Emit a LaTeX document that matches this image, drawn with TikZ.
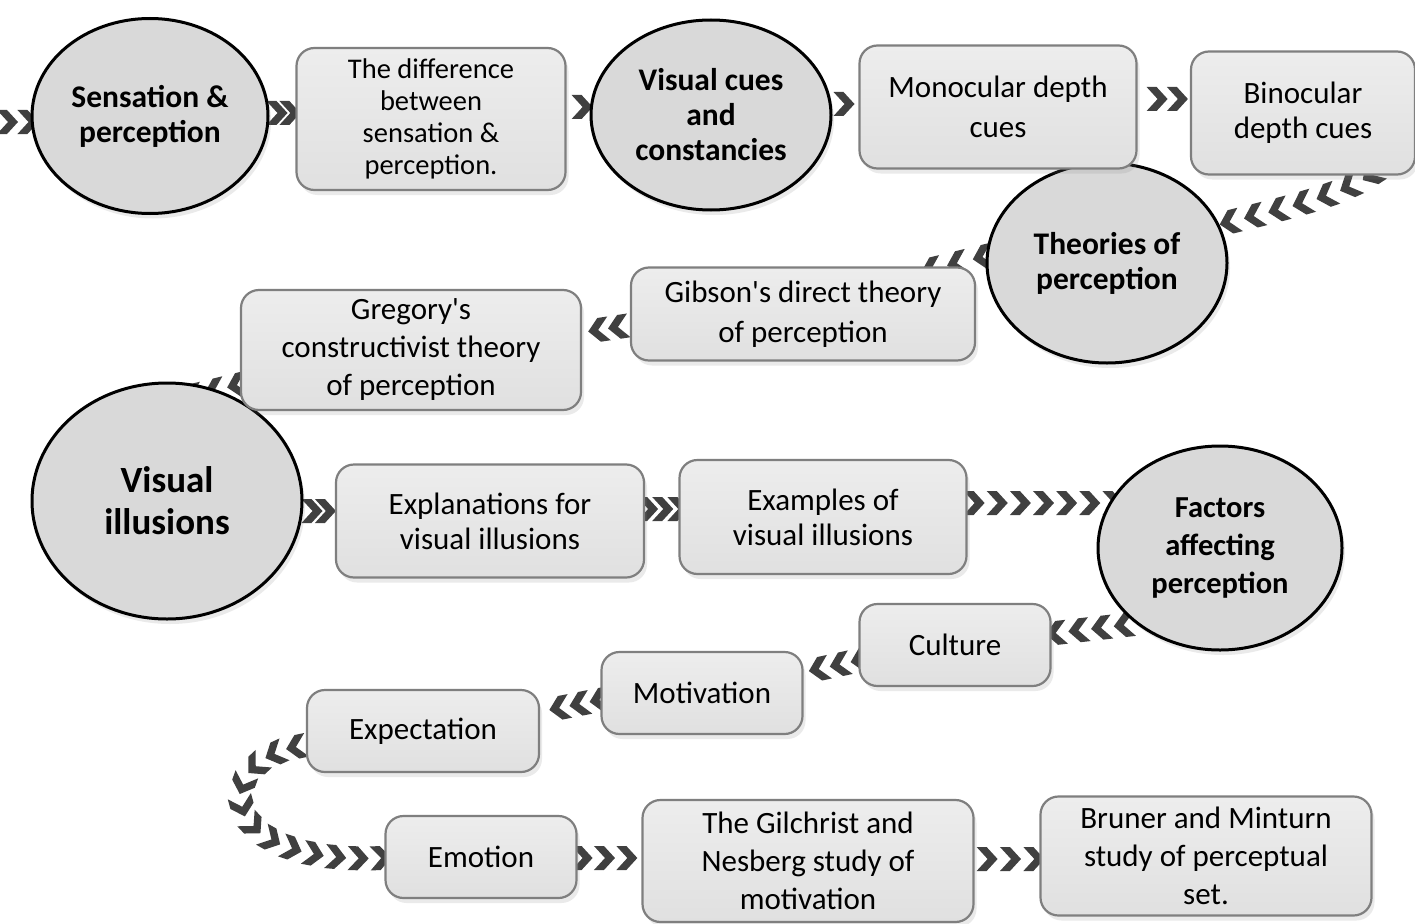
\documentclass[tikz,border=0pt]{standalone}
\usepackage{fontspec}
\setmainfont{Carlito}
\usetikzlibrary{shapes.geometric,shadows,decorations.markings}
\definecolor{chevc}{HTML}{404040}
\definecolor{boxtop}{HTML}{EDEDED}
\definecolor{boxbot}{HTML}{E0E0E0}
\definecolor{boxline}{HTML}{7F7F7F}
\definecolor{circfill}{HTML}{D9D9D9}
\pgfdeclarelayer{bg}
\pgfsetlayers{bg,main}
\tikzset{
  box/.style={draw=boxline, line width=2.2pt, rounded corners=18pt,
    top color=boxtop, bottom color=boxbot, align=center, inner sep=2pt,
    font=\fontsize{31}{38}\selectfont,
    drop shadow={opacity=0.16, shadow xshift=3pt, shadow yshift=-5pt}},
  circ/.style={ellipse, draw=black, line width=3pt, fill=circfill, align=center,
    inner sep=0pt, font=\fontsize{31.5}{35}\selectfont\bfseries,
    drop shadow={opacity=0.16, shadow xshift=3pt, shadow yshift=-5pt}},
  chevs/.style={postaction={decorate, decoration={markings,
    mark=between positions 0 and 1 step #1 with
    {\fill[chevc] (-11,-12) -- (-1,-12) -- (10,0) -- (-1,12) -- (-11,12) -- (0,0) -- cycle;}}}},
}
\begin{document}
\begin{tikzpicture}[x=1pt,y=-1pt]
\useasboundingbox (0,0) rectangle (1415,923);
% circles
\node[circ, minimum width=236pt, minimum height=195pt] (sens) at (150,116) {Sensation \&\\perception};
\node[circ, minimum width=240pt, minimum height=190pt] (vcues) at (711,115) {Visual cues\\and\\constancies};
\node[circ, minimum width=240pt, minimum height=200pt] (theo) at (1107,263) {Theories of\\perception};
\node[circ, minimum width=270pt, minimum height=236pt, font=\fontsize{37}{42}\selectfont\bfseries] (villus) at (167,501) {Visual\\illusions};
\node[circ, minimum width=244pt, minimum height=204pt, font=\fontsize{30.5}{38}\selectfont\bfseries] (factors) at (1220,548) {Factors\\affecting\\perception};
% boxes
\node[box, minimum width=269pt, minimum height=142pt, font=\fontsize{28.5}{32}\selectfont] (diff) at (431,119) {The difference\\between\\sensation \&\\perception.};
\node[box, minimum width=277pt, minimum height=123pt, font=\fontsize{31}{40}\selectfont] (mono) at (998,107) {Monocular depth\\cues};
\node[box, minimum width=224pt, minimum height=123pt, font=\fontsize{31}{35}\selectfont] (bino) at (1303,113) {Binocular\\depth cues};
\node[box, minimum width=344pt, minimum height=93pt, font=\fontsize{31}{40}\selectfont] (gibson) at (803,314) {Gibson\textquotesingle s direct theory\\of perception};
\node[box, minimum width=340pt, minimum height=120pt] (gregory) at (411,350) {Gregory\textquotesingle s\\constructivist theory\\of perception};
\node[box, minimum width=308pt, minimum height=113pt, font=\fontsize{31}{35}\selectfont] (expl) at (490,521) {Explanations for\\visual illusions};
\node[box, minimum width=287pt, minimum height=114pt, font=\fontsize{31}{35}\selectfont] (exam) at (823,517) {Examples of\\visual illusions};
\node[box, minimum width=191pt, minimum height=82pt] (culture) at (955,645) {Culture};
\node[box, minimum width=201pt, minimum height=82pt] (motiv) at (702,693) {Motivation};
\node[box, minimum width=232pt, minimum height=82pt] (expect) at (423,731) {Expectation};
\node[box, minimum width=191pt, minimum height=82pt] (emotion) at (481,857) {Emotion};
\node[box, minimum width=331pt, minimum height=122pt] (gilchrist) at (808,861) {The Gilchrist and\\Nesberg study of\\motivation};
\node[box, minimum width=331pt, minimum height=119pt] (bruner) at (1206,856) {Bruner and Minturn\\study of perceptual\\set.};
\coordinate (start) at (8,122);
% connectors
\begin{pgfonlayer}{bg}
\fill[white] (0,0) rectangle (1415,923);
\path[chevs=0.999] (start) -- ([shift={(-2,6)}]sens.west);
\path[chevs=0.999] ([shift={(8,-3)}]sens.east) -- ([shift={(-5,-6)}]diff.west);
\path[chevs=2] ([shift={(16,-12)}]diff.east) -- ([shift={(-3,-8)}]vcues.west);
\path[chevs=2] ([shift={(12,-11)}]vcues.east) -- ([shift={(-4,-3)}]mono.west);
\path[chevs=0.999] ([shift={(20,-8)}]mono.east) -- ([shift={(-12,-14)}]bino.west);
\path[chevs=0.1427] ([shift={(-45,-1)}]bino.south east) .. controls (1340,195) and (1300,205) .. ([shift={(98,-35)}]theo.center);
\path[chevs=0.4995] ([shift={(-3,-6)}]theo.west) -- ([shift={(-45,3)}]gibson.north east);
\path[chevs=0.999] ([shift={(-12,13)}]gibson.west) -- ([shift={(16,-20)}]gregory.east);
\path[chevs=0.4995] ([shift={(-3,-26)}]gregory.south west) -- ([shift={(25,-105)}]villus.center);
\path[chevs=0.999] ([shift={(9,10)}]villus.east) -- ([shift={(-9,-10)}]expl.west);
\path[chevs=0.4995] ([shift={(3,-12)}]expl.east) -- ([shift={(0,-8)}]exam.west);
\path[chevs=0.1665] ([shift={(7,-14)}]exam.east) -- ([shift={(17,-45)}]factors.west);
\path[chevs=0.333] ([shift={(-9,4)}]factors.south west) -- ([shift={(4,-12)}]culture.east);
\path[chevs=0.4995] ([shift={(2,15)}]culture.west) -- ([shift={(15,-24)}]motiv.east);
\path[chevs=0.4995] ([shift={(-1,7)}]motiv.west) -- ([shift={(19,-23)}]expect.east);
\path[chevs=0.0908] ([shift={(-10,16)}]expect.west) .. controls (210,765) and (215,865) .. ([shift={(-3,1)}]emotion.west);
\path[chevs=0.4995] ([shift={(5,1)}]emotion.east) -- ([shift={(-14,-3)}]gilchrist.west);
\path[chevs=0.4995] ([shift={(13,-2)}]gilchrist.east) -- ([shift={(-5,3)}]bruner.west);
\end{pgfonlayer}
\end{tikzpicture}
\end{document}
